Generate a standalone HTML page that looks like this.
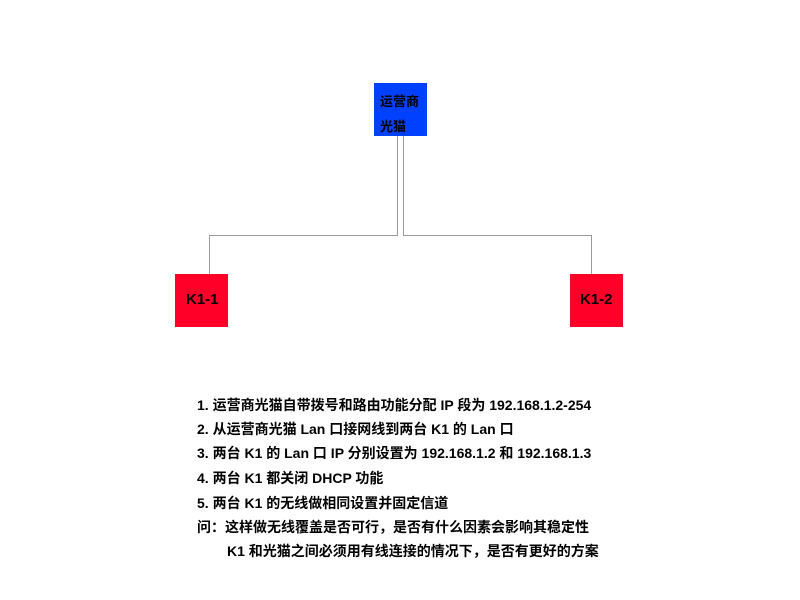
<!DOCTYPE html>
<html><head><meta charset="utf-8"><style>
body{margin:0;width:800px;height:600px;background:#fff;position:relative;overflow:hidden;font-family:"Liberation Sans","Noto Sans CJK SC",sans-serif;}
.b{position:absolute;font-weight:bold;color:#000;}
.t{position:absolute;left:197px;font-size:14px;font-weight:bold;white-space:nowrap;line-height:20px;}
</style></head><body>
<svg width="800" height="600" style="position:absolute;left:0;top:0">
<rect x="374" y="83" width="53" height="53" fill="#0041ff"/>
<rect x="175" y="274" width="53" height="53" fill="#ff0029"/>
<rect x="570" y="274" width="53" height="53" fill="#ff0029"/>
<polyline points="397.5,136 397.5,235.5 209.5,235.5 209.5,274" fill="none" stroke="#999" stroke-width="1"/>
<polyline points="403.5,136 403.5,235.5 591.5,235.5 591.5,274" fill="none" stroke="#999" stroke-width="1"/>
</svg>
<div class="b" style="left:380px;top:89px;font-size:13px;line-height:25px;">运营商<br>光猫</div>
<div class="b" style="left:186px;top:291px;font-size:15px;">K1-1</div>
<div class="b" style="left:580px;top:291px;font-size:15px;">K1-2</div>
<div class="t" style="top:395px">1. 运营商光猫自带拨号和路由功能分配 IP 段为 192.168.1.2-254</div>
<div class="t" style="top:419px">2. 从运营商光猫 Lan 口接网线到两台 K1 的 Lan 口</div>
<div class="t" style="top:443px">3. 两台 K1 的 Lan 口 IP 分别设置为 192.168.1.2 和 192.168.1.3</div>
<div class="t" style="top:468px">4. 两台 K1 都关闭 DHCP 功能</div>
<div class="t" style="top:493px">5. 两台 K1 的无线做相同设置并固定信道</div>
<div class="t" style="top:517px">问：这样做无线覆盖是否可行，是否有什么因素会影响其稳定性</div>
<div class="t" style="top:541px;left:227px">K1 和光猫之间必须用有线连接的情况下，是否有更好的方案</div>
</body></html>
